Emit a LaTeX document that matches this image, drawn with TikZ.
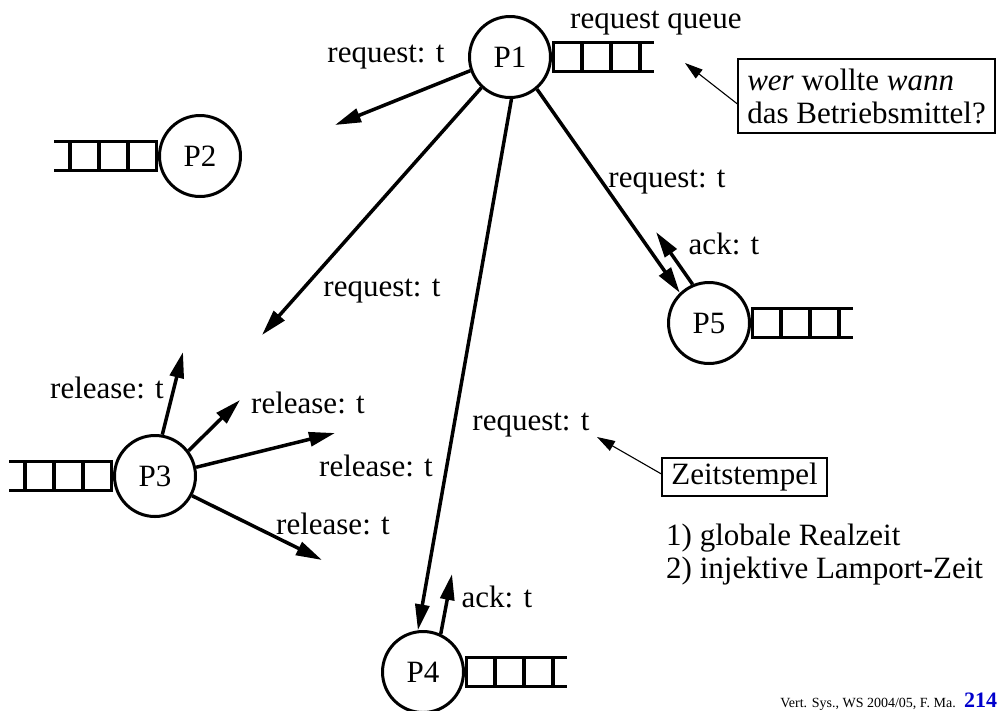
\documentclass[tikz,border=0pt]{standalone}
\usepackage{fontspec}
\setmainfont{Liberation Serif}
\usetikzlibrary{arrows.meta}
\begin{document}
\begin{tikzpicture}[x=1pt,y=-1pt,
  txt/.style={font=\fontsize{31}{33}\selectfont},
  proc/.style={circle,draw,line width=3pt,minimum size=81pt,inner sep=0pt,txt},
  lbl/.style={inner sep=0pt,txt},
  msg/.style={line width=3.5pt,-{Triangle[length=26pt,width=14pt]}},
  note/.style={line width=1.1pt,-{Triangle[length=18pt,width=11pt]}},
  notebox/.style={draw,line width=1.1pt,inner sep=0pt,txt},
  qline/.style={line width=3.5pt},
  qright/.pic={\draw[qline] (0,-14.5) -- (102,-14.5) (0,14.5) -- (102,14.5);
    \foreach \qx in {1.5,30,59,88} \draw[qline] (\qx,-14.5) -- (\qx,14.5);},
  qleft/.pic={\draw[qline] (0,-14.5) -- (-104,-14.5) (0,14.5) -- (-104,14.5);
    \foreach \qx in {-1.5,-30,-59,-88} \draw[qline] (\qx,-14.5) -- (\qx,14.5);}
]
\useasboundingbox (0,0) rectangle (1000,710);

% processes
\node[proc] (P1) at (510,57) {P1};
\node[proc] (P2) at (200,156) {P2};
\node[proc] (P3) at (155,476) {P3};
\node[proc] (P4) at (423,672) {P4};
\node[proc] (P5) at (709,323) {P5};

% queues
\pic at (P1.east) {qright};
\pic at (P2.west) {qleft};
\pic at (P3.west) {qleft};
\pic at (P4.east) {qright};
\pic at (P5.east) {qright};

% free ends
\coordinate (e1) at (335,125);
\coordinate (e2) at (262,335);
\coordinate (ackP4) at (452,574);
\coordinate (ackP5) at (656,232);
\coordinate (r1) at (183,352);
\coordinate (r2) at (240,400);
\coordinate (r3) at (335,433);
\coordinate (r4) at (322,560);

% messages
\draw[msg] (P1.199) -- (e1);
\draw[msg] (P1.227) -- (e2);
\draw[msg] (P1.272) -- (P4.97);
\draw[msg] (P4.65) -- (ackP4);
\draw[msg] (P1.310) -- (P5.134);
\draw[msg] (P5.113) -- (ackP5);
\draw[msg] (P3.80) -- (r1);
\draw[msg] (P3.37) -- (r2);
\draw[msg] (P3.12) -- (r3);
\draw[msg] (P3.-28) -- (r4);

% labels
\node[lbl,anchor=base west] (rq) at (570,28) {request queue};
\node[lbl] (l1) at (386,57) {request: t};
\node[lbl] (l2) at (382,291) {request: t};
\node[lbl] (l3) at (531,425) {request: t};
\node[lbl] (l4) at (667,182) {request: t};
\node[lbl] (a5) at (724,244) {ack: t};
\node[lbl] (a4) at (497,597) {ack: t};
\node[lbl] (rl1) at (107,388) {release: t};
\node[lbl] (rl2) at (308,403) {release: t};
\node[lbl] (rl3) at (376,466) {release: t};
\node[lbl] (rl4) at (333,524) {release: t};

% notes
\node[notebox,minimum width=257pt,minimum height=74pt,align=left] (wer) at (866.5,96)
  {\textit{wer} wollte \textit{wann}\\das Betriebsmittel?};
\coordinate (werTip) at (685,63);
\draw[note] (wer.west |- 0,104) -- (werTip);

\node[notebox,minimum width=165pt,minimum height=38pt] (zeit) at (744.5,477) {Zeitstempel};
\coordinate (zeitTip) at (597,437);
\draw[note] (zeit.west |- 0,474) -- (zeitTip);

\node[lbl,anchor=base west,align=left] (list) at (666,578)
  {1) globale Realzeit\\2) injektive Lamport-Zeit};

% footer
\node[inner sep=0pt,anchor=base east,font=\fontsize{14}{16}\selectfont] (foot) at (956,707) {Vert. Sys., WS 2004/05, F. Ma.};
\node[inner sep=0pt,anchor=base west,font=\fontsize{22}{24}\selectfont\bfseries,text={rgb,255:red,0;green,0;blue,204}] (page) at (964,707) {214};
\end{tikzpicture}
\end{document}
